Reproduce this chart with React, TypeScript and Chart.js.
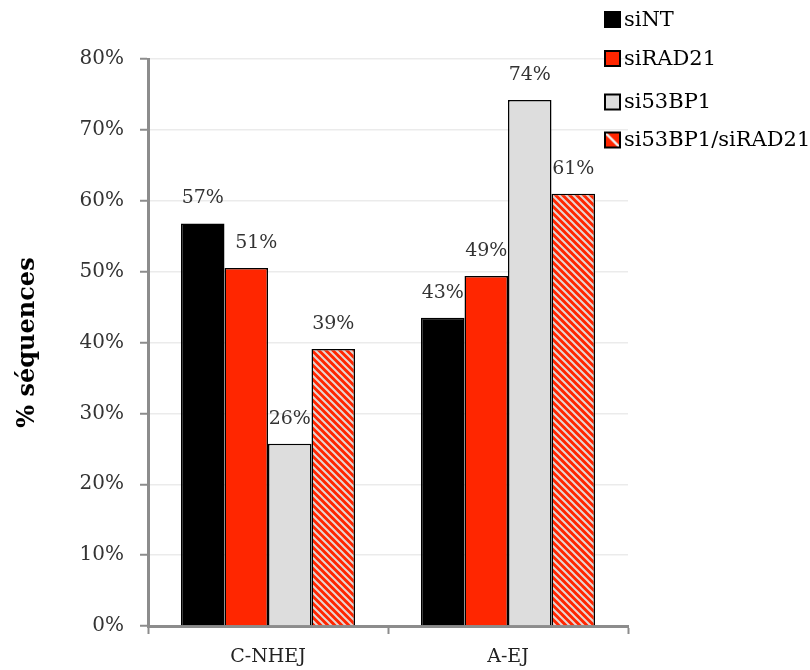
import React, { useEffect, useRef } from "react";
import { Chart, registerables } from "chart.js";

Chart.register(...registerables);

const categories = ["C-NHEJ", "A-EJ"];
const seriesNames = ["siNT", "siRAD21", "si53BP1", "si53BP1/siRAD21"];
const siNT = [56.8, 43.5];
const siRAD21 = [50.5, 49.4];
const si53BP1 = [25.7, 74.2];
const si53BP1_siRAD21 = [39.1, 61.0];
const valueLabels = [
  ["57%", "43%"],
  ["51%", "49%"],
  ["26%", "74%"],
  ["39%", "61%"],
];
const yTicks = [0, 10, 20, 30, 40, 50, 60, 70, 80];

const RED = "#ff2600";
const GREY = "#dddddd";
const FONT = "'DejaVu Serif', 'Liberation Serif', serif";

function makeHatch(): CanvasPattern | string {
  const c = document.createElement("canvas");
  const s = 7;
  c.width = s;
  c.height = s;
  const ctx = c.getContext("2d");
  if (!ctx) return RED;
  ctx.fillStyle = RED;
  ctx.fillRect(0, 0, s, s);
  ctx.strokeStyle = "#e6d6d2";
  ctx.lineWidth = 2;
  ctx.beginPath();
  ctx.moveTo(-1, -1);
  ctx.lineTo(s + 1, s + 1);
  ctx.moveTo(-1, s - 1);
  ctx.lineTo(1, s + 1);
  ctx.moveTo(s - 1, -1);
  ctx.lineTo(s + 1, 1);
  ctx.stroke();
  const p = ctx.createPattern(c, "repeat");
  return p || RED;
}

function makeLegendHatch(): CanvasPattern | string {
  const c = document.createElement("canvas");
  c.width = 15;
  c.height = 15;
  const ctx = c.getContext("2d");
  if (!ctx) return RED;
  ctx.fillStyle = RED;
  ctx.fillRect(0, 0, 15, 15);
  ctx.strokeStyle = "#eeeeee";
  ctx.lineWidth = 2.5;
  ctx.beginPath();
  ctx.moveTo(0, 0);
  ctx.lineTo(15, 15);
  ctx.stroke();
  return ctx.createPattern(c, "no-repeat") || RED;
}

export default function App() {
  const ref = useRef<HTMLCanvasElement>(null);
  useEffect(() => {
    if (!ref.current) return;
    const hatch = makeHatch();
    const legendHatch = makeLegendHatch();
    const fills: any[] = ["#000000", RED, GREY, hatch];
    const legendFills: any[] = ["#000000", RED, GREY, legendHatch];
    const data = [siNT, siRAD21, si53BP1, si53BP1_siRAD21];

    const labelPlugin = {
      id: "valueLabels",
      afterDatasetsDraw(chart: any) {
        const ctx = chart.ctx;
        ctx.save();
        ctx.font = `19px ${FONT}`;
        ctx.fillStyle = "#333333";
        ctx.textAlign = "center";
        ctx.textBaseline = "middle";
        chart.data.datasets.forEach((ds: any, di: number) => {
          const meta = chart.getDatasetMeta(di);
          meta.data.forEach((bar: any, i: number) => {
            let x = bar.x;
            if (di === 1 && i === 0) x += 10;
            ctx.fillText(valueLabels[di][i], x, bar.y - 25);
          });
        });
        ctx.restore();
      },
    };

    const legendPlugin = {
      id: "customLegend",
      afterDraw(chart: any) {
        const ctx = chart.ctx;
        ctx.save();
        ctx.font = `21px ${FONT}`;
        ctx.textBaseline = "middle";
        ctx.textAlign = "left";
        const ys = [19.5, 58.5, 102, 140];
        seriesNames.forEach((name, i) => {
          const y = ys[i];
          ctx.save();
          ctx.translate(605, y - 7.5);
          ctx.fillStyle = legendFills[i];
          ctx.fillRect(0, 0, 15, 15);
          ctx.strokeStyle = "#000";
          ctx.lineWidth = 2;
          ctx.strokeRect(0, 0, 15, 15);
          ctx.restore();
          ctx.fillStyle = "#000";
          ctx.fillText(name, 624, y + 1);
        });
        ctx.restore();
      },
    };

    const chart = new Chart(ref.current, {
      type: "bar",
      data: {
        labels: categories,
        datasets: data.map((d, i) => ({
          label: seriesNames[i],
          data: d,
          backgroundColor: fills[i],
          borderColor: "#000000",
          borderWidth: 1.5,
          categoryPercentage: 0.725,
          barPercentage: 1,
        })),
      },
      options: {
        animation: false,
        responsive: false,
        maintainAspectRatio: false,
        layout: { padding: { left: 0, right: 182, top: 59, bottom: 0 } },
        plugins: { legend: { display: false }, tooltip: { enabled: false } },
        scales: {
          y: {
            min: 0,
            max: 80,
            afterBuildTicks(scale: any) {
              scale.ticks = yTicks.map((v) => ({ value: v }));
            },
            afterFit(scale: any) {
              scale.width = 148;
            },
            ticks: {
              callback: (v: any) => v + "%",
              font: { family: FONT, size: 20 },
              color: "#333333",
              padding: 16,
            },
            grid: {
              color: "#ebebeb",
              lineWidth: 1.5,
              tickColor: "#8c8c8c",
              tickWidth: 2,
              tickLength: 8,
            },
            border: { color: "#8c8c8c", width: 3 },
            title: {
              display: true,
              text: "% séquences",
              font: { family: FONT, size: 24, weight: "bold" },
              color: "#000000",
              padding: { top: 13, bottom: 0 },
            },
          },
          x: {
            afterFit(scale: any) {
              scale.height = 44;
            },
            ticks: {
              font: { family: FONT, size: 19 },
              color: "#222222",
              padding: 12,
            },
            grid: {
              offset: true,
              drawOnChartArea: false,
              tickColor: "#8c8c8c",
              tickWidth: 2,
              tickLength: 8,
            },
            border: { color: "#8c8c8c", width: 3 },
          },
        },
      },
      plugins: [labelPlugin, legendPlugin],
    });
    return () => chart.destroy();
  }, []);

  return (
    <div style={{ position: "fixed", left: 0, top: 0, width: 810, height: 670, background: "#fff" }}>
      <canvas ref={ref} width={810} height={670} style={{ width: 810, height: 670 }} />
    </div>
  );
}
